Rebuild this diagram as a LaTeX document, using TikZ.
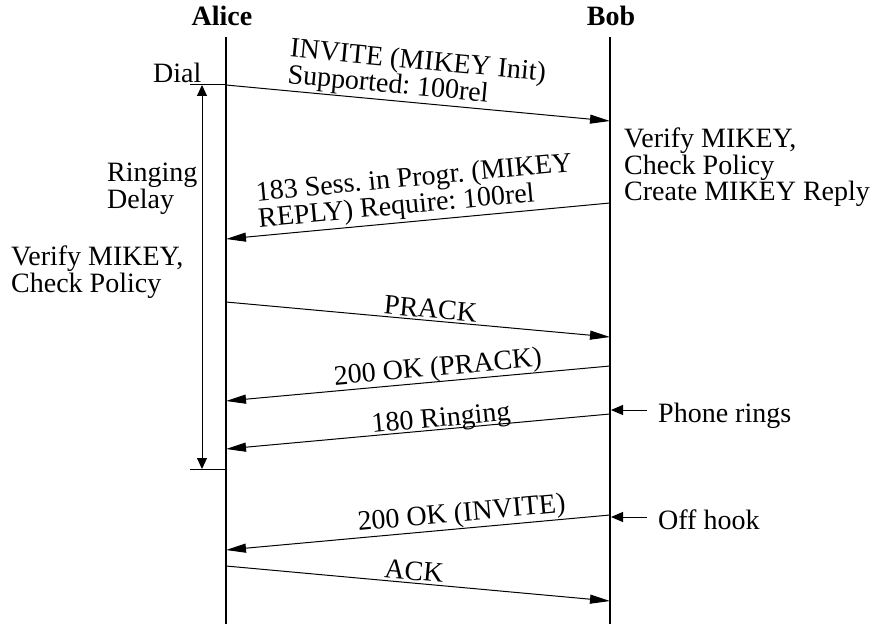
\documentclass[tikz,border=0pt]{standalone}
\usepackage{fontspec}
\setmainfont{Liberation Serif}
\usetikzlibrary{arrows.meta}
\frenchspacing
\begin{document}
\begin{tikzpicture}[x=1pt,y=-1pt,
  every node/.style={font=\fontsize{28}{23}\selectfont, inner sep=0pt},
  life/.style={line width=2pt},
  thinline/.style={line width=1pt},
  msg/.style={line width=1pt, -{Triangle[length=20pt,width=9pt]}},
  msgl/.style={line width=1pt, {Triangle[length=20pt,width=9pt]}-},
  dly/.style={line width=1pt, {Triangle[length=11pt,width=10pt]}-{Triangle[length=11pt,width=10pt]}},
  side/.style={line width=1pt, -{Triangle[length=12pt,width=10pt]}},
  lblone/.style={sloped, anchor=base},
  lbltwo/.style={sloped, anchor=south, align=left}]
\useasboundingbox (0,0) rectangle (876,626);
% participants
\node[anchor=base] (alice) at (222,26) {\bfseries Alice};
\node[anchor=base] (bob) at (611,26) {\bfseries Bob};
\coordinate (at) at (226,37); \coordinate (ab) at (226,624);
\coordinate (bt) at (610,37); \coordinate (bb) at (610,624);
\draw[life] (at) -- (ab);
\draw[life] (bt) -- (bb);
% messages
\coordinate (a1) at (226,85);  \coordinate (b1) at (610,121);
\coordinate (a2) at (226,239); \coordinate (b2) at (610,203);
\coordinate (a3) at (226,302); \coordinate (b3) at (610,337);
\coordinate (a4) at (226,401); \coordinate (b4) at (610,366);
\coordinate (a5) at (226,449); \coordinate (b5) at (610,414);
\coordinate (a6) at (226,550); \coordinate (b6) at (610,515);
\coordinate (a7) at (226,566); \coordinate (b7) at (610,601);
\draw[msg] (a1) -- node[lbltwo, pos=0.49, yshift=1pt, font=\fontsize{28}{21}\selectfont] {INVITE (MIKEY Init)\\Supported: 100rel} (b1);
\draw[msgl] (a2) -- node[lbltwo, pos=0.5, yshift=2pt] {183 Sess. in Progr. (MIKEY\\REPLY) Require: 100rel} (b2);
\draw[msg] (a3) -- node[lblone, pos=0.53, yshift=2.5pt] {PRACK} (b3);
\draw[msgl] (a4) -- node[lblone, pos=0.555, yshift=6pt] {200 OK (PRACK)} (b4);
\draw[msgl] (a5) -- node[lblone, pos=0.5625, yshift=2.7pt] {180 Ringing} (b5);
\draw[msgl] (a6) -- node[lblone, pos=0.617, yshift=7pt] {200 OK (INVITE)} (b6);
\draw[msg] (a7) -- node[lblone, pos=0.487, yshift=3pt] {ACK} (b7);
% dial and ringing delay
\coordinate (d1) at (190,85);
\coordinate (d2) at (190,469); \coordinate (a8) at (226,469);
\coordinate (r1) at (202,85); \coordinate (r2) at (202,469);
\draw[thinline] (d1) -- (a1);
\draw[thinline] (d2) -- (a8);
\draw[dly] (r1) -- (r2);
\node[anchor=base west] (dial) at (153,82) {Dial};
\node[anchor=north west, align=left] (ring) at (107,163) {Ringing\\Delay};
\node[anchor=north west, align=left] (verl) at (11,246) {Verify MIKEY,\\Check Policy};
\node[anchor=north west, align=left] (verr) at (624,128) {Verify MIKEY,\\Check Policy\\Create MIKEY Reply};
% side events
\coordinate (p1) at (647,410); \coordinate (p2) at (611,410);
\coordinate (o1) at (647,517); \coordinate (o2) at (611,517);
\draw[side] (p1) -- (p2);
\draw[side] (o1) -- (o2);
\node[anchor=base west] (rings) at (658,422) {Phone rings};
\node[anchor=base west] (hook) at (658,529) {Off hook};
\end{tikzpicture}
\end{document}
